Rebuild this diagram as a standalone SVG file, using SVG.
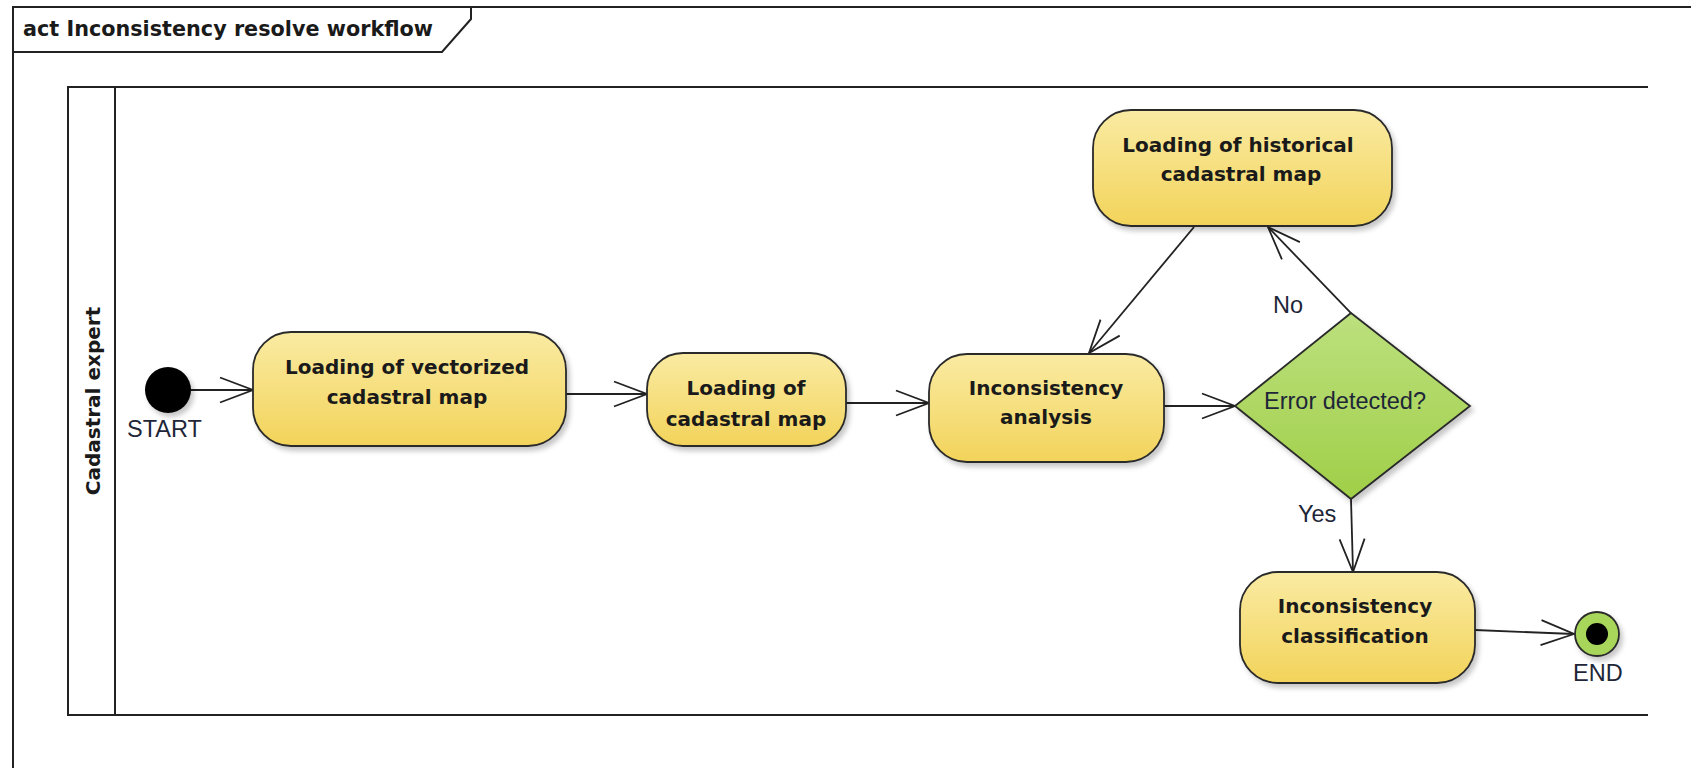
<svg xmlns="http://www.w3.org/2000/svg" width="1691" height="768" viewBox="0 0 1691 768">
<defs>
<style>
.frame{fill:none;stroke:#222;stroke-width:2}
.node{stroke:#2a2a2a;stroke-width:1.8;filter:url(#sh)}
.act{fill:url(#yel)}
.bt{font-family:"DejaVu Sans",Verdana,sans-serif;font-weight:bold;font-size:20px;fill:#1a1a1a;text-anchor:middle}
.lt{font-family:"Liberation Sans",Arial,sans-serif;font-size:23.5px;fill:#1e2638}
.conn{fill:none;stroke:#222;stroke-width:1.8;marker-end:url(#arr)}
</style>
<linearGradient id="yel" x1="0" y1="0" x2="0" y2="1">
<stop offset="0" stop-color="#FAEBA3"/>
<stop offset="1" stop-color="#F2D35A"/>
</linearGradient>
<linearGradient id="grn" x1="0" y1="0" x2="0" y2="1">
<stop offset="0" stop-color="#BCE07E"/>
<stop offset="1" stop-color="#A0CF48"/>
</linearGradient>
<filter id="sh" x="-10%" y="-10%" width="130%" height="140%">
<feDropShadow dx="3" dy="4" stdDeviation="2.5" flood-color="#000" flood-opacity="0.22"/>
</filter>
<marker id="arr" viewBox="-36 -15 39 30" refX="0" refY="0" markerWidth="39" markerHeight="30" markerUnits="userSpaceOnUse" orient="auto">
<path d="M-33,-12.5 L0,0 L-33,12.5" fill="none" stroke="#222" stroke-width="1.8"/>
</marker>
</defs>
<rect width="1691" height="768" fill="#fff"/>
<g id="frame">
<path class="frame" d="M1691,7 H13 V768"/>
<path class="frame" d="M13,52 H442 L471,19 V7"/>
<text x="23" y="36" font-family="DejaVu Sans,Verdana,sans-serif" font-weight="bold" font-size="20.5" fill="#1a1a1a" textLength="410" lengthAdjust="spacingAndGlyphs">act Inconsistency resolve workflow</text>
</g>
<g id="pool">
<path class="frame" d="M1648,87 H68 V715 H1648"/>
<path class="frame" d="M115,87 V715"/>
<text class="bt" transform="translate(100,401) rotate(-90)" x="0" y="0">Cadastral expert</text>
</g>
<g id="connectors">
<path class="conn" d="M191,390 L253,390"/>
<path class="conn" d="M566,394 L647,394"/>
<path class="conn" d="M846,403 L929,403"/>
<path class="conn" d="M1164,406 L1235,406"/>
<path class="conn" d="M1194,227 L1089,353"/>
<path class="conn" d="M1351,313 L1268,227"/>
<path class="conn" d="M1351,499 L1353,572"/>
<path class="conn" d="M1475,630 L1574,634"/>
<text class="lt" x="1273" y="313">No</text>
<text class="lt" x="1298" y="522">Yes</text>
</g>
<g id="start">
<circle cx="168" cy="390" r="23" fill="#000" filter="url(#sh)"/>
<text class="lt" x="127" y="437">START</text>
</g>
<g id="loadVectorized">
<rect class="node act" x="253" y="332" width="313" height="114" rx="38"/>
<text class="bt" x="407" y="374">Loading of vectorized</text>
<text class="bt" x="407" y="404">cadastral map</text>
</g>
<g id="loadCadastral">
<rect class="node act" x="647" y="353" width="199" height="93" rx="36"/>
<text class="bt" x="746" y="395">Loading of</text>
<text class="bt" x="746" y="426">cadastral map</text>
</g>
<g id="analysis">
<rect class="node act" x="929" y="354" width="235" height="108" rx="38"/>
<text class="bt" x="1046" y="395">Inconsistency</text>
<text class="bt" x="1046" y="424">analysis</text>
</g>
<g id="loadHistorical">
<rect class="node act" x="1093" y="110" width="299" height="116" rx="38"/>
<text class="bt" x="1238" y="152">Loading of historical</text>
<text class="bt" x="1241" y="181">cadastral map</text>
</g>
<g id="decision">
<path class="node" fill="url(#grn)" d="M1351,313 L1470,406 L1351,499 L1235,406 Z"/>
<text class="lt" x="1264" y="409">Error detected?</text>
</g>
<g id="classification">
<rect class="node act" x="1240" y="572" width="235" height="111" rx="38"/>
<text class="bt" x="1355" y="613">Inconsistency</text>
<text class="bt" x="1355" y="643">classification</text>
</g>
<g id="end">
<circle cx="1597" cy="634" r="22" fill="#A8D65A" stroke="#2a2a2a" stroke-width="1.8" filter="url(#sh)"/>
<circle cx="1597" cy="634" r="11" fill="#000"/>
<text class="lt" x="1573" y="681">END</text>
</g>
</svg>
